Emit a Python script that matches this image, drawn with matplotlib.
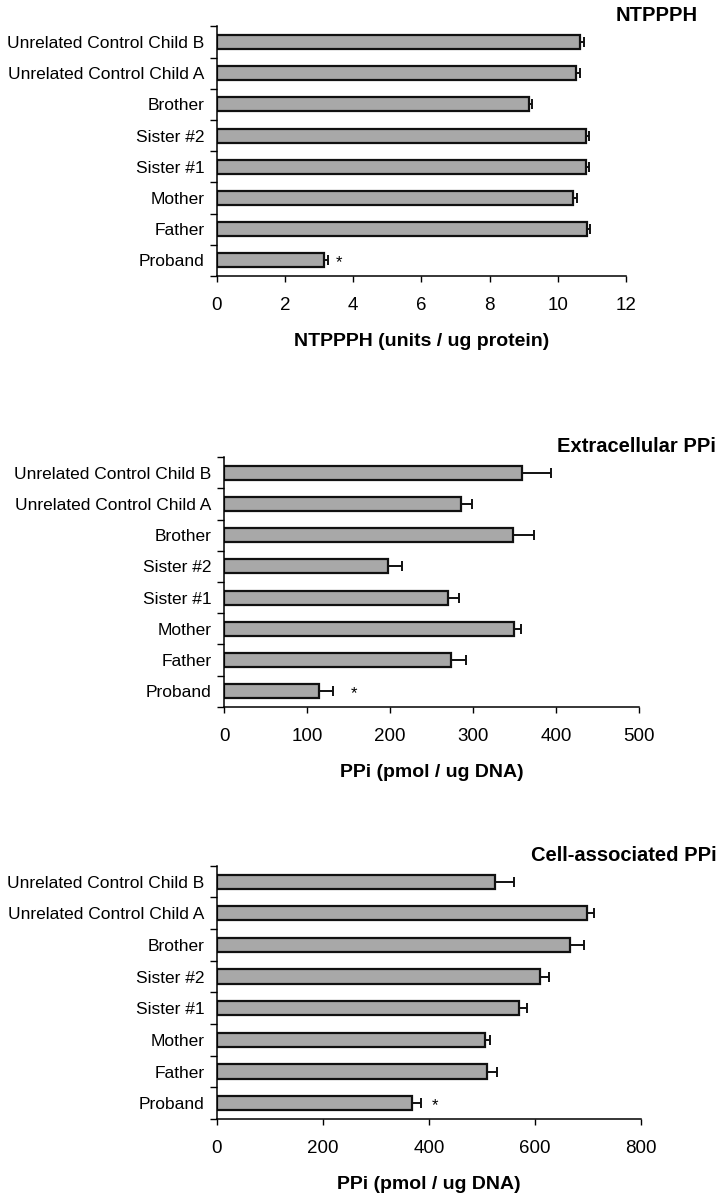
import matplotlib
matplotlib.use('Agg')
import matplotlib.pyplot as plt
import numpy as np

plt.rcParams['font.family'] = ['Liberation Sans', 'DejaVu Sans']

# Categories, bottom to top
subjects = ['Proband', 'Father', 'Mother', 'Sister #1', 'Sister #2', 'Brother',
            'Unrelated Control Child A', 'Unrelated Control Child B']

# NTPPPH (units / ug protein)
ntppph = [3.15, 10.85, 10.45, 10.82, 10.82, 9.15, 10.54, 10.65]
ntppph_err = [0.10, 0.10, 0.10, 0.10, 0.08, 0.08, 0.10, 0.12]

# Extracellular PPi (pmol / ug DNA)
extra_ppi = [115, 274, 349, 270, 197, 348, 286, 359]
extra_ppi_err = [16, 18, 9, 13, 17, 25, 13, 35]

# Cell-associated PPi (pmol / ug DNA)
cell_ppi = [367, 510, 506, 569, 609, 666, 698, 525]
cell_ppi_err = [18, 18, 9, 15, 18, 26, 14, 36]

panels = [
    dict(vals=ntppph, err=ntppph_err, title='NTPPPH',
         xlabel='NTPPPH (units / ug protein)', xlim=12, step=2,
         rect=[0.302, 0.770, 0.570, 0.208], star_px=11, title_x=0.972),
    dict(vals=extra_ppi, err=extra_ppi_err, title='Extracellular PPi',
         xlabel='PPi (pmol / ug DNA)', xlim=500, step=100,
         rect=[0.312, 0.411, 0.578, 0.208], star_px=21, title_x=0.997),
    dict(vals=cell_ppi, err=cell_ppi_err, title='Cell-associated PPi',
         xlabel='PPi (pmol / ug DNA)', xlim=800, step=200,
         rect=[0.302, 0.0675, 0.591, 0.211], star_px=14, title_x=0.998),
]

fig = plt.figure(figsize=(7.18, 12), dpi=100)

for p in panels:
    ax = fig.add_axes(p['rect'])
    y = np.arange(len(subjects))
    ax.barh(y, p['vals'], height=0.45, color='#a8a8a8', edgecolor='#111111',
            linewidth=1.6, zorder=2)
    ax.errorbar(p['vals'], y, xerr=[np.zeros(len(y)), p['err']], fmt='none',
                ecolor='#111111', elinewidth=1.4, capsize=3.5, capthick=1.4, zorder=3)
    # significance star on proband
    ax.annotate('*', xy=(p['vals'][0] + p['err'][0], 0), xytext=(p['star_px'], -2),
                textcoords='offset pixels', ha='center', va='center', fontsize=12)

    ax.set_xlim(0, p['xlim'])
    ax.set_ylim(-0.5, len(subjects) - 0.5)
    ax.set_xticks(np.arange(0, p['xlim'] + 0.1, p['step']))
    ax.set_yticks(y)
    ax.set_yticklabels(subjects, fontsize=12.5)
    ax.set_yticks(np.arange(-0.5, len(subjects), 1), minor=True)
    ax.tick_params(axis='y', which='major', length=0, pad=9)
    ax.tick_params(axis='y', which='minor', length=5, width=1, direction='out')
    ax.tick_params(axis='x', length=4, width=1, direction='out', labelsize=13.5, pad=11)
    for s in ['top', 'right']:
        ax.spines[s].set_visible(False)
    ax.spines['left'].set_linewidth(1.1)
    ax.spines['bottom'].set_linewidth(1.1)
    ax.set_xlabel(p['xlabel'], fontsize=14, fontweight='bold', labelpad=14)

    # panel title, right aligned near the figure edge
    pos = ax.get_position()
    fig.text(p['title_x'], pos.y1 + 0.001, p['title'], ha='right', va='bottom',
             fontsize=14.5, fontweight='bold')

fig.savefig('out.png', dpi=100)
